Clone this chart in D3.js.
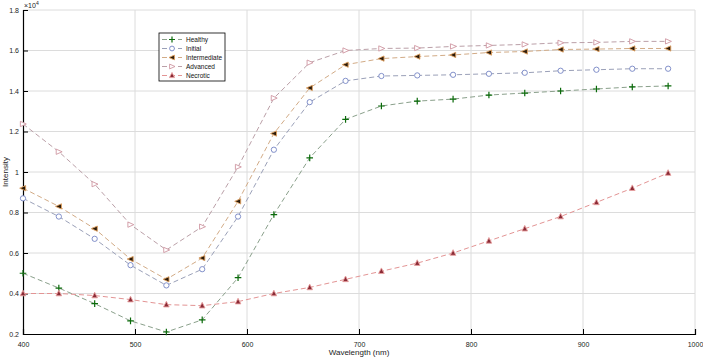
<!DOCTYPE html>
<html><head><meta charset="utf-8">
<script src="https://cdn.jsdelivr.net/npm/d3@7"></script>
<style>body{margin:0;background:#fff}svg{display:block}text{font-family:"Liberation Sans",Arial,sans-serif}</style>
</head><body><svg id="c" width="703" height="358"></svg>
<script>
const wavelengths = [400,432,464,496,528,560,592,624,656,688,720,752,784,816,848,880,912,944,976];
const healthy      = [0.50,0.427,0.35,0.265,0.21,0.27,0.478,0.79,1.07,1.26,1.326,1.35,1.36,1.38,1.39,1.40,1.41,1.42,1.425];
const initial      = [0.87,0.78,0.67,0.54,0.44,0.52,0.78,1.11,1.345,1.45,1.474,1.477,1.48,1.485,1.49,1.50,1.505,1.51,1.51];
const intermediate = [0.92,0.83,0.72,0.57,0.47,0.575,0.855,1.19,1.415,1.53,1.56,1.57,1.578,1.59,1.595,1.605,1.607,1.61,1.61];
const advanced     = [1.237,1.10,0.94,0.74,0.615,0.73,1.025,1.365,1.54,1.60,1.61,1.612,1.62,1.625,1.63,1.638,1.64,1.645,1.645];
const necrotic     = [0.40,0.40,0.39,0.37,0.345,0.34,0.36,0.40,0.43,0.47,0.51,0.55,0.60,0.66,0.72,0.78,0.85,0.92,0.995];
const seriesNames  = ["Healthy","Initial","Intermediate","Advanced","Necrotic"];
const xTicks = [400,500,600,700,800,900,1000];
const yTicks = [0.2,0.4,0.6,0.8,1,1.2,1.4,1.6,1.8];

const styles = {
  Healthy:      {line:"#8aa08b", mk:"plus",  stroke:"#0a6a0a", fill:"none"},
  Initial:      {line:"#9aa0b8", mk:"circle",stroke:"#7585c4", fill:"none"},
  Intermediate: {line:"#d2ab86", mk:"tleft", stroke:"#e0a060", fill:"#2a1a0a"},
  Advanced:     {line:"#bba0a8", mk:"tright",stroke:"#cf96a2", fill:"none"},
  Necrotic:     {line:"#e39494", mk:"tup",   stroke:"#e8a0a0", fill:"#8a2a35"}
};
const data = [healthy, initial, intermediate, advanced, necrotic];

const svg = d3.select("#c");
const L=23, R=695, T=10, B=334;
const x = d3.scaleLinear().domain([400,1000]).range([L,R]);
const y = d3.scaleLinear().domain([0.2,1.8]).range([B,T]);

// grid
svg.append("g").selectAll("line").data(xTicks.slice(1)).join("line")
  .attr("x1",d=>x(d)).attr("x2",d=>x(d)).attr("y1",T).attr("y2",B)
  .attr("stroke","#dcdcdc").attr("stroke-width",1);
svg.append("g").selectAll("line").data(yTicks.slice(1)).join("line")
  .attr("x1",L).attr("x2",R).attr("y1",d=>y(d)).attr("y2",d=>y(d))
  .attr("stroke","#dcdcdc").attr("stroke-width",1);

// axes
const xa = svg.append("g").attr("transform",`translate(0,${B})`)
  .call(d3.axisBottom(x).tickValues(xTicks).tickSize(-5).tickPadding(8).tickFormat(d3.format("d")));
const ya = svg.append("g").attr("transform",`translate(${L},0)`)
  .call(d3.axisLeft(y).tickValues(yTicks).tickSize(-5).tickPadding(4).tickFormat(d=>String(+d.toFixed(1))));
[xa,ya].forEach(a=>{
  a.select(".domain").attr("stroke","#000").attr("stroke-width",1.2);
  a.selectAll(".tick line").attr("stroke","#000");
  a.selectAll("text").attr("font-size",7).attr("fill","#222").attr("font-family","Liberation Sans, Arial, sans-serif");
});

// exponent
const ex = svg.append("text").attr("x",24).attr("y",8).attr("font-size",7).attr("fill","#222");
ex.append("tspan").text("×10");
ex.append("tspan").attr("dy",-3).attr("font-size",5).text("4");

// labels
svg.append("text").attr("x",(L+R)/2).attr("y",355).attr("text-anchor","middle")
  .attr("font-size",8).attr("fill","#222").text("Wavelength (nm)");
svg.append("text").attr("transform",`translate(8,${(T+B)/2}) rotate(-90)`).attr("text-anchor","middle")
  .attr("font-size",8).attr("fill","#222").text("Intensity");

function marker(g, type, st, s){
  if(type==="plus"){
    g.append("path").attr("d",`M${-s},0H${s}M0,${-s}V${s}`).attr("stroke",st.stroke).attr("stroke-width",1.2).attr("fill","none");
  } else if(type==="circle"){
    g.append("circle").attr("r",s*0.8).attr("stroke",st.stroke).attr("stroke-width",0.9).attr("fill","#fff");
  } else {
    let p;
    if(type==="tleft") p=`M${-s},0L${s*0.8},${-s*0.8}L${s*0.8},${s*0.8}Z`;
    if(type==="tright") p=`M${s},0L${-s*0.8},${-s*0.8}L${-s*0.8},${s*0.8}Z`;
    if(type==="tup") p=`M0,${-s}L${s*0.85},${s*0.7}L${-s*0.85},${s*0.7}Z`;
    g.append("path").attr("d",p).attr("stroke",st.stroke).attr("stroke-width",0.9)
      .attr("fill",st.fill==="none"?"#fff":st.fill);
  }
}

const line = d3.line().x((d,i)=>x(wavelengths[i])).y(d=>y(d));
seriesNames.forEach((name,k)=>{
  const st = styles[name];
  svg.append("path").datum(data[k]).attr("d",line).attr("fill","none")
    .attr("stroke",st.line).attr("stroke-width",1).attr("stroke-dasharray","5,3");
});
seriesNames.forEach((name,k)=>{
  const st = styles[name];
  const g = svg.append("g");
  data[k].forEach((v,i)=>{
    marker(g.append("g").attr("transform",`translate(${x(wavelengths[i])},${y(v)})`), st.mk, st, 3.3);
  });
});

// legend
const lg = svg.append("g").attr("transform","translate(159,33)");
lg.append("rect").attr("width",66).attr("height",48).attr("fill","#fff").attr("stroke","#000").attr("stroke-width",0.8);
seriesNames.forEach((name,k)=>{
  const st = styles[name];
  const yy = 6.5 + k*9;
  lg.append("line").attr("x1",3).attr("x2",23).attr("y1",yy).attr("y2",yy)
    .attr("stroke",st.line).attr("stroke-width",1).attr("stroke-dasharray","5,3");
  marker(lg.append("g").attr("transform",`translate(13,${yy})`), st.mk, st, 3);
  lg.append("text").attr("x",27).attr("y",yy+2.5).attr("font-size",6.5).attr("fill","#111").text(name);
});
</script></body></html>
